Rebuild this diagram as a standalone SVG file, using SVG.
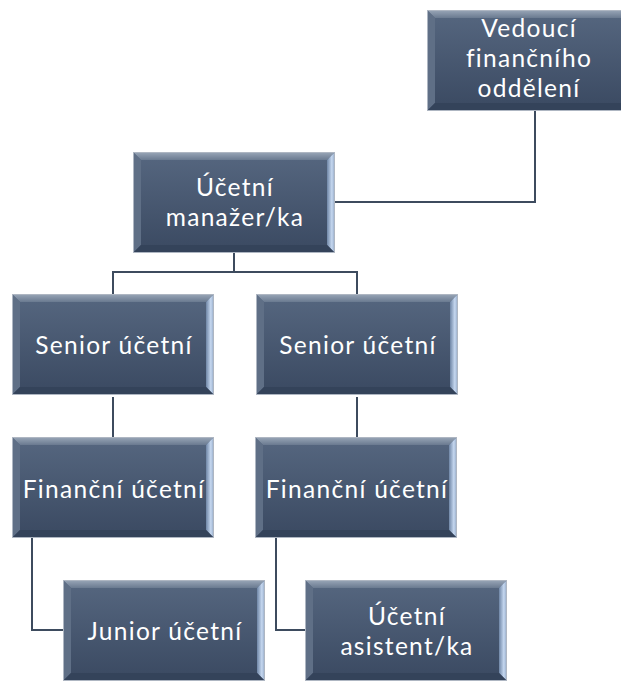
<svg xmlns="http://www.w3.org/2000/svg" width="621" height="682" viewBox="0 0 621 682">
<style>
.lbl{font-family:Lato,"Open Sans",sans-serif;font-size:24.5px;letter-spacing:1.3px;fill:#ffffff;text-anchor:middle}
.con{fill:none;stroke:#3d4b5e;stroke-width:2}
</style>
<defs>
<linearGradient id="face" x1="0" y1="0" x2="0" y2="1">
<stop offset="0" stop-color="#566780"/>
<stop offset="1" stop-color="#3a4961"/>
</linearGradient>
<linearGradient id="topb" x1="0" y1="0" x2="0" y2="1">
<stop offset="0" stop-color="#9aa7b8"/>
<stop offset="1" stop-color="#6a7a90"/>
</linearGradient>
<linearGradient id="rightb" x1="0" y1="0" x2="1" y2="0">
<stop offset="0" stop-color="#6f86a6"/>
<stop offset="0.6" stop-color="#c6d8f0"/>
<stop offset="1" stop-color="#8ea4c2"/>
</linearGradient>
<g id="box">
<rect width="202" height="101" fill="url(#face)"/>
<polygon points="0,0 202,0 194,8 8,8" fill="url(#topb)"/>
<polygon points="0,0 8,8 8,93 0,101" fill="#5f6f86"/>
<polygon points="202,0 202,101 194,93 194,8" fill="url(#rightb)"/>
<polygon points="0,101 8,93 194,93 202,101" fill="#34435a"/>
<rect x="0.5" y="0.5" width="201" height="100" fill="none" stroke="#aeb6c2" stroke-width="1"/>
</g>
</defs>
<g id="connectors">
<polyline class="con" points="535,110 535,202 335,202"/>
<polyline class="con" points="234,253 234,272 113,272 113,294"/>
<polyline class="con" points="234,272 357,272 357,294"/>
<line class="con" x1="113" y1="397" x2="113" y2="437"/>
<line class="con" x1="357" y1="397" x2="357" y2="437"/>
<polyline class="con" points="32,538 32,630 63,630"/>
<polyline class="con" points="276,538 276,630 305,630"/>
</g>
<g id="n1"><use href="#box" x="427" y="10"/><text class="lbl"><tspan x="529" y="37">Vedoucí</tspan><tspan x="529" y="67">finančního</tspan><tspan x="529" y="97">oddělení</tspan></text></g>
<g id="n2"><use href="#box" x="133" y="152"/><text class="lbl"><tspan x="235" y="196">Účetní</tspan><tspan x="235" y="226">manažer/ka</tspan></text></g>
<g id="n3"><use href="#box" x="12" y="294"/><text class="lbl" x="114" y="354">Senior účetní</text></g>
<g id="n4"><use href="#box" x="256" y="294"/><text class="lbl" x="358" y="354">Senior účetní</text></g>
<g id="n5"><use href="#box" x="12" y="437"/><text class="lbl" x="114" y="498">Finanční účetní</text></g>
<g id="n6"><use href="#box" x="255" y="437"/><text class="lbl" x="357" y="498">Finanční účetní</text></g>
<g id="n7"><use href="#box" x="63" y="580"/><text class="lbl" x="165" y="640">Junior účetní</text></g>
<g id="n8"><use href="#box" x="305" y="580"/><text class="lbl"><tspan x="407" y="625">Účetní</tspan><tspan x="407" y="655">asistent/ka</tspan></text></g>
</svg>
